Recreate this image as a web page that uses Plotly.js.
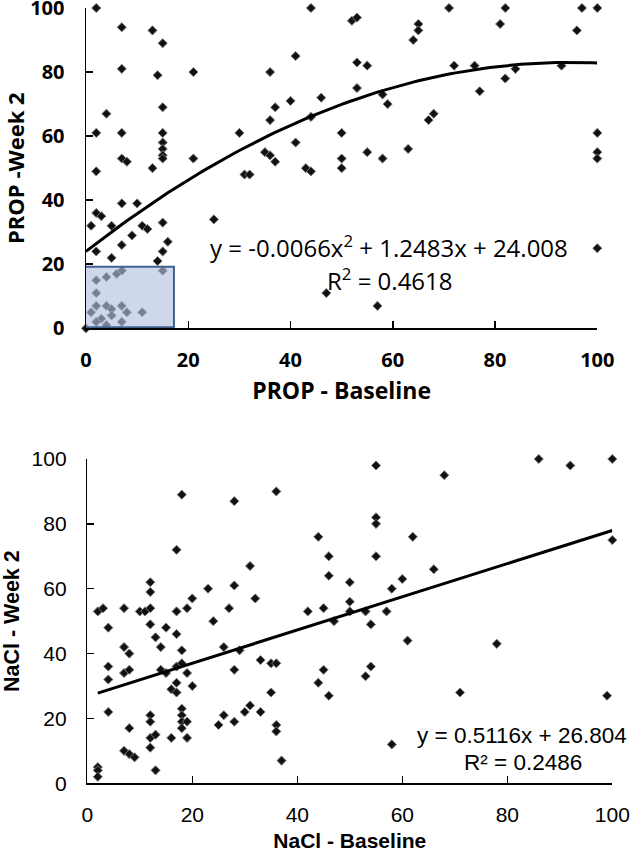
<!DOCTYPE html>
<html>
<head>
<meta charset="utf-8">
<script src="https://cdn.plot.ly/plotly-3.0.1.min.js"></script>
<style>html,body{margin:0;padding:0;background:#fff;}#chart{width:632px;height:852px;}</style>
</head>
<body>
<div id="chart"></div>
<script>
// ---- PROP panel data (Baseline vs Week 2) ----
const propBaseline = [
  2,7,13,15,7,14,21,36,41,44,4,15,2,7,15,15,15,15,15,7,8,13,21,2,30,31,32,36,37,40,46,35,36,37,41,43,44,44,
  52,53,65,65,64,71,82,81,97,100,96,53,55,53,58,59,67,68,72,76,77,82,84,93,50,50,50,55,58,63,100,100,100,100,47,57,
  25,1,2,3,5,7,10,7,9,11,12,15,16,15,14,2,5,15,
  2,4,6,7,2,2,4,5,7,8,11,1,3,5,2,4,7,0
];
const propWeek2 = [
  100,94,93,89,81,79,80,80,85,100,67,69,61,61,61,58,56,54,53,53,52,50,53,49,61,48,48,65,69,71,72,55,54,52,58,50,49,66,
  96,97,95,93,90,100,100,95,100,100,93,83,82,75,73,70,65,67,82,82,74,78,81,82,61,53,50,55,53,56,61,55,53,25,11,7,
  34,32,36,35,32,39,39,26,29,32,31,33,27,24,21,24,22,18,
  15,16,17,18,11,7,7,6,7,5,5,5,3,4,2,1,2,0
];
const propFit = [-0.0066, 1.2483, 24.008];   // y = a x^2 + b x + c
const propFitX = [0, 100];
const propEq = ["y = -0.0066x<sup>2</sup> + 1.2483x + 24.008", "R<sup>2</sup> = 0.4618"];

// ---- NaCl panel data (Baseline vs Week 2) ----
const naclBaseline = [
  2,3,4,7,10,11,12,12,12,12,13,15,17,17,18,17,19,20,23,24,28,28,27,31,32,36,44,42,
  7,8,14,18,26,29,4,4,4,7,8,14,15,16,17,17,17,18,19,20,18,18,18,19,18,12,12,12,13,12,13,16,19,8,7,8,9,2,2,2,
  25,26,28,28,30,31,33,33,35,36,35,36,36,37,44,
  61,78,45,46,53,54,71,99,58,
  55,68,86,92,100,100,55,55,62,46,55,46,50,66,60,58,50,50,45,47,53,54,57
];
const naclWeek2 = [
  53,54,48,54,53,53,62,59,54,49,45,48,46,72,89,53,54,57,60,50,87,61,54,67,57,90,76,53,
  42,40,42,41,42,41,36,32,22,34,35,35,34,29,31,28,36,37,34,30,23,21,19,19,17,21,19,14,15,11,4,14,14,17,10,9,8,5,4,2,
  18,21,19,35,22,24,22,38,37,37,28,18,16,7,31,
  44,43,35,27,33,36,28,27,12,
  98,95,100,98,100,75,82,80,76,70,70,64,62,66,63,60,56,53,54,50,53,49,53
];
const naclFit = [0.5116, 26.804];            // y = m x + k
const naclFitX = [2, 100];
const naclEq = ["y = 0.5116x + 26.804", "R\u00b2 = 0.2486"];

const tickVals = [0, 20, 40, 60, 80, 100];

// trendline points from the displayed fit equations
const propLineX = [], propLineY = [];
for (let i = 0; i <= 100; i++) {
  const x = propFitX[0] + (propFitX[1] - propFitX[0]) * i / 100;
  propLineX.push(x);
  propLineY.push(propFit[0] * x * x + propFit[1] * x + propFit[2]);
}
const naclLineX = naclFitX.slice();
const naclLineY = naclFitX.map(x => naclFit[0] * x + naclFit[1]);

const markerStyle = {symbol: 'diamond', size: 7, color: '#111', line: {width: 1, color: '#777'}};

const traces = [
  {type: 'scatter', mode: 'markers', x: propBaseline, y: propWeek2, xaxis: 'x', yaxis: 'y',
   marker: markerStyle, cliponaxis: false, hoverinfo: 'x+y'},
  {type: 'scatter', mode: 'lines', x: propLineX, y: propLineY, xaxis: 'x', yaxis: 'y',
   line: {color: '#000', width: 3}, hoverinfo: 'skip'},
  {type: 'scatter', mode: 'markers', x: naclBaseline, y: naclWeek2, xaxis: 'x2', yaxis: 'y2',
   marker: markerStyle, cliponaxis: false, hoverinfo: 'x+y'},
  {type: 'scatter', mode: 'lines', x: naclLineX, y: naclLineY, xaxis: 'x2', yaxis: 'y2',
   line: {color: '#000', width: 3}, hoverinfo: 'skip'}
];

const topFont = 'Open Sans, Liberation Sans, sans-serif';
const botFont = 'Liberation Sans, Arial, sans-serif';

function axis(extra) {
  return Object.assign({
    range: [0, 100], tickvals: tickVals, ticks: 'inside', ticklen: 7, tickwidth: 1.5, tickcolor: '#000',
    showline: true, linecolor: '#000', linewidth: 1.5, showgrid: false, zeroline: false,
    automargin: false, fixedrange: true, ticklabeloverflow: 'allow'
  }, extra);
}

const layout = {
  width: 632, height: 852,
  margin: {l: 0, r: 0, t: 0, b: 0},
  paper_bgcolor: '#fff', plot_bgcolor: '#fff',
  showlegend: false,
  xaxis: axis({domain: [86/632, 597.3/632], anchor: 'y',
    tickfont: {family: topFont, size: 20, color: '#000', weight: 'bold'}, ticklabelstandoff: 13,
    title: {text: 'PROP - Baseline', standoff: 11, font: {family: topFont, size: 23, color: '#000', weight: 'bold'}}}),
  yaxis: axis({domain: [1 - 328.3/852, 1 - 8/852], anchor: 'x',
    tickfont: {family: topFont, size: 20, color: '#000', weight: 'bold'}, ticklabelstandoff: 16,
    title: {text: 'PROP -Week 2', standoff: 6, font: {family: topFont, size: 22, color: '#000', weight: 'bold'}}}),
  xaxis2: axis({domain: [87.3/632, 612.3/632], anchor: 'y2',
    tickfont: {family: botFont, size: 21, color: '#000'}, ticklabelstandoff: 12,
    title: {text: 'NaCl - Baseline', standoff: 14, font: {family: botFont, size: 21, color: '#000', weight: 'bold'}}}),
  yaxis2: axis({domain: [1 - 783.3/852, 1 - 459/852], anchor: 'x2',
    tickfont: {family: botFont, size: 21, color: '#000'}, ticklabelstandoff: 15,
    title: {text: 'NaCl - Week 2', standoff: 8, font: {family: botFont, size: 21.5, color: '#000', weight: 'bold'}}}),
  shapes: [
    {type: 'rect', xref: 'x', yref: 'y', x0: -0.2, x1: 17.2, y0: 0.3, y1: 19.2, layer: 'above',
     fillcolor: 'rgba(179,192,223,0.63)', line: {color: '#41608f', width: 2}}
  ],
  annotations: [
    {xref: 'x', yref: 'y', x: 59.3, y: 25.5, text: propEq[0], showarrow: false,
     font: {family: topFont, size: 24, color: '#000'}},
    {xref: 'x', yref: 'y', x: 59.5, y: 15.3, text: propEq[1], showarrow: false,
     font: {family: topFont, size: 24, color: '#000'}},
    {xref: 'x2', yref: 'y2', x: 82.8, y: 14.6, text: naclEq[0], showarrow: false,
     font: {family: botFont, size: 22.5, color: '#000'}},
    {xref: 'x2', yref: 'y2', x: 83, y: 6.35, text: naclEq[1], showarrow: false,
     font: {family: botFont, size: 22.5, color: '#000'}}
  ]
};

Plotly.newPlot('chart', traces, layout, {displayModeBar: false, staticPlot: true});
</script>
</body>
</html>
